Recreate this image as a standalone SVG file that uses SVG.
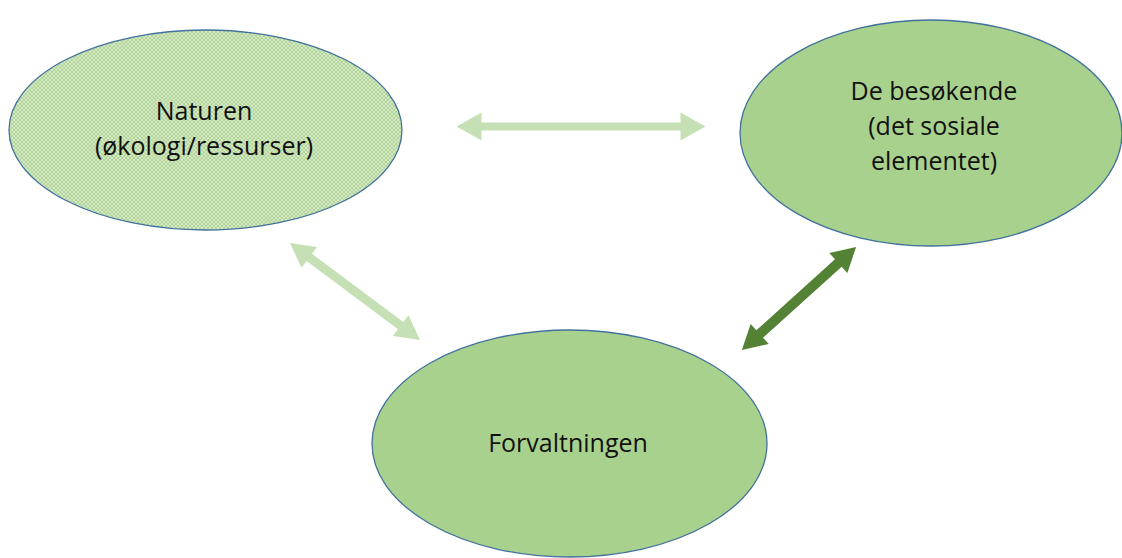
<svg xmlns="http://www.w3.org/2000/svg" width="1122" height="558" viewBox="0 0 1122 558">
<style>
.node{stroke:#41719c;stroke-width:1.3}
.solid{fill:#a9d18e}
.lbl{font-family:"Open Sans","Liberation Sans",sans-serif;font-size:25px;fill:#111;text-anchor:middle}
.light{fill:#c5e0b4}
.dark{fill:#548235}
</style>
<defs>
<pattern id="grid" width="4" height="4" patternUnits="userSpaceOnUse">
<rect width="4" height="4" fill="#e8f3e0"/>
<path d="M0 0L2 2L0 4M4 0L2 2L4 4" stroke="#aed392" stroke-width="1.1" fill="none"/>
</pattern>
</defs>
<rect width="1122" height="558" fill="#fff"/>
<g id="connectors">
<g transform="translate(581,126.5)"><polygon class="light" points="-124.5,0 -99.5,-14 -99.5,-4 99.5,-4 99.5,-14 124.5,0 99.5,14 99.5,4 -99.5,4 -99.5,14"/></g>
<g transform="translate(355,291.5) rotate(36.7)"><polygon class="light" points="-81,0 -57,-13 -57,-4.5 57,-4.5 57,-13 81,0 57,13 57,4.5 -57,4.5 -57,13"/></g>
<g transform="translate(799,298.5) rotate(-42.1)"><polygon class="dark" points="-77,0 -53,-13.5 -53,-5 53,-5 53,-13.5 77,0 53,13.5 53,5 -53,5 -53,13.5"/></g>
</g>
<g id="naturen">
<ellipse class="node" cx="205.5" cy="130" rx="196.5" ry="100" fill="url(#grid)"/>
<text class="lbl" x="204" y="120">Naturen</text>
<text class="lbl" x="204" y="155">(økologi/ressurser)</text>
</g>
<g id="besokende">
<ellipse class="node solid" cx="931" cy="133" rx="191" ry="113"/>
<text class="lbl" x="934" y="100">De besøkende</text>
<text class="lbl" x="934" y="135">(det sosiale</text>
<text class="lbl" x="934" y="170">elementet)</text>
</g>
<g id="forvaltningen">
<ellipse class="node solid" cx="569.5" cy="443.5" rx="197.5" ry="113.5"/>
<text class="lbl" x="568" y="452">Forvaltningen</text>
</g>
</svg>
